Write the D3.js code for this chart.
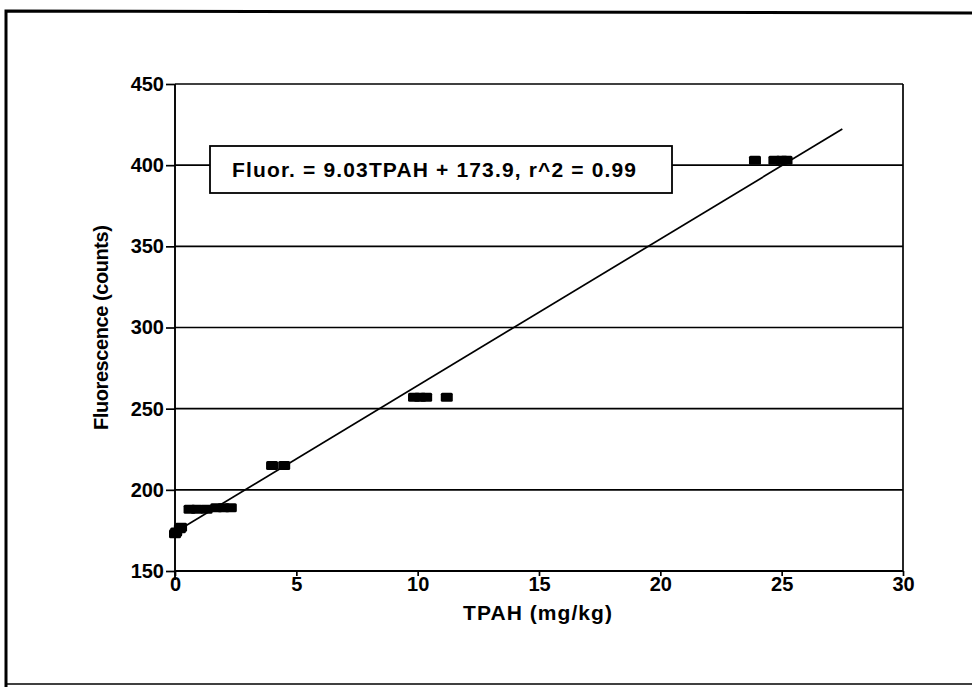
<!DOCTYPE html>
<html><head><meta charset="utf-8">
<script src="https://cdn.jsdelivr.net/npm/d3@7"></script>
<style>body{margin:0;background:#fff}svg{display:block}text{font-family:"Liberation Sans",Arial,sans-serif;fill:#000}</style>
</head><body><svg id="c" width="972" height="687"></svg>
<script>
const tpah = [0.0, 0.05, 0.2, 0.25, 0.6, 0.9, 1.3, 1.7, 2.0, 2.3, 4.0, 4.5, 9.85, 10.1, 10.35, 11.2, 23.9, 24.7, 25.0, 25.2];
const fluor = [173, 174, 176, 177, 188, 188, 188, 189, 189, 189, 215, 215, 257, 257, 257, 257, 403, 403, 403, 403];
const xTicks = [0, 5, 10, 15, 20, 25, 30];
const yTicks = [150, 200, 250, 300, 350, 400, 450];
const slope = 9.03, intercept = 173.9, fitRange = [0, 27.5];
const equation = "Fluor. = 9.03TPAH + 173.9, r^2 = 0.99";
const xLabel = "TPAH  (mg/kg)", yLabel = "Fluorescence (counts)";

const svg = d3.select("#c");
const L = 175, R = 903, T = 84, B = 571;
const x = d3.scaleLinear().domain([0, 30]).range([L, R]);
const y = d3.scaleLinear().domain([150, 450]).range([B, T]);
const FONT = '"Liberation Sans",Arial,sans-serif';

// outer frame
svg.append("path").attr("d", `M6,687 V11 L972,13`).attr("fill","none").attr("stroke","#000").attr("stroke-width",3);
svg.append("line").attr("x1",6).attr("x2",972).attr("y1",684).attr("y2",684).attr("stroke","#000").attr("stroke-width",1.5);

// gridlines
svg.append("g").selectAll("line").data(yTicks).join("line")
  .attr("x1", L).attr("x2", R).attr("y1", d => y(d)).attr("y2", d => y(d))
  .attr("stroke", "#000").attr("stroke-width", 1.7);
svg.append("line").attr("x1",R).attr("x2",R).attr("y1",T).attr("y2",B).attr("stroke","#000").attr("stroke-width",1.7);

// axes
const yAxis = d3.axisLeft(y).tickValues(yTicks).tickSize(9).tickPadding(2).tickFormat(d3.format("d"));
const gy = svg.append("g").attr("transform", `translate(${L},0)`).call(yAxis);
const xAxis = d3.axisBottom(x).tickValues(xTicks).tickSize(5).tickPadding(1).tickFormat(d3.format("d"));
const gx = svg.append("g").attr("transform", `translate(0,${B})`).call(xAxis);
[gy, gx].forEach(g => {
  g.select(".domain").attr("stroke", "#000").attr("stroke-width", 1.9);
  g.selectAll(".tick line").attr("stroke", "#000").attr("stroke-width", 1.7);
  g.selectAll("text").attr("font-size", 20).attr("font-weight", "bold")
    .attr("font-family", FONT).attr("fill", "#000");
});
gx.select(".domain").attr("d", `M${L},0H${R}`);
gy.select(".domain").attr("d", `M0,${T}V${B+9}`);

// regression line
svg.append("line")
  .attr("x1", x(fitRange[0])).attr("y1", y(slope*fitRange[0]+intercept))
  .attr("x2", x(fitRange[1])).attr("y2", y(slope*fitRange[1]+intercept))
  .attr("stroke", "#000").attr("stroke-width", 1.7);

// markers
svg.append("g").selectAll("rect").data(tpah.map((t,i)=>[t,fluor[i]])).join("rect")
  .attr("x", d => x(d[0]) - 6).attr("y", d => y(d[1]) - 4.5)
  .attr("width", 12).attr("height", 9).attr("rx", 1.5).attr("fill", "#000");

// equation box
const bx = 210, by = 146, bw = 462, bh = 47;
svg.append("rect").attr("x", bx).attr("y", by).attr("width", bw).attr("height", bh)
  .attr("fill", "#fff").attr("stroke", "#000").attr("stroke-width", 1.8);
svg.append("text").attr("x", bx + 22).attr("y", by + 31).attr("font-size", 21)
  .attr("font-weight", "bold").attr("textLength", 404).attr("lengthAdjust", "spacing").text(equation);

// axis labels
svg.append("text").attr("x", 463).attr("y", 620)
  .attr("font-size", 21).attr("font-weight", "bold")
  .attr("textLength", 149).attr("lengthAdjust", "spacing").text(xLabel);
svg.append("text").attr("transform", `translate(108,430) rotate(-90)`)
  .attr("font-size", 20).attr("font-weight", "bold")
  .attr("textLength", 205).attr("lengthAdjust", "spacing").text(yLabel);
</script></body></html>
